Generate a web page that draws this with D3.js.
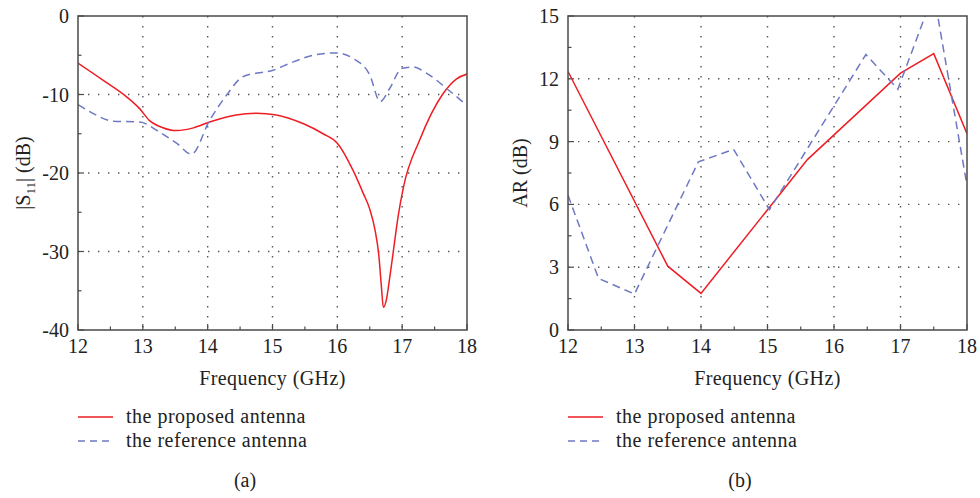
<!DOCTYPE html>
<html>
<head>
<meta charset="utf-8">
<script src="https://cdn.jsdelivr.net/npm/d3@7"></script>
<style>
  body { margin: 0; background: #fff; }
  svg text { font-family: "Liberation Serif", "DejaVu Serif", serif; fill: #222; }
</style>
</head>
<body>
<svg id="chart" width="980" height="498"></svg>
<script>
// (a) |S11| data
const s11Freq = [12, 12.39, 12.75, 12.95, 13.1, 13.3, 13.52, 13.78, 14.03, 14.44, 14.75, 15.06, 15.47, 15.78, 16.0, 16.25, 16.4, 16.5, 16.58, 16.64, 16.68, 16.71, 16.76, 16.8, 16.86, 16.94, 17.02, 17.27, 17.63, 17.84, 18];
const s11Proposed = [-6.0, -8.2, -10.3, -11.8, -13.3, -14.2, -14.6, -14.25, -13.5, -12.6, -12.4, -12.6, -13.7, -15.0, -16.2, -19.8, -22.6, -24.6, -27.2, -30.5, -34.5, -37.1, -36.0, -33.8, -30.2, -25.4, -21.8, -15.8, -9.9, -8.0, -7.4];

const s11RefFreq = [12, 12.23, 12.54, 12.95, 13.26, 13.52, 13.75, 14.03, 14.29, 14.55, 15.01, 15.32, 15.63, 15.99, 16.24, 16.5, 16.66, 16.81, 16.99, 17.17, 17.38, 17.68, 18];
const s11Reference = [-11.3, -12.4, -13.4, -13.5, -14.8, -16.2, -17.6, -13.3, -10.1, -7.7, -6.9, -5.85, -5.0, -4.7, -5.4, -7.5, -10.9, -9.2, -6.7, -6.5, -7.3, -9.2, -11.4];

// (b) AR data
const arFreq = [12, 13.5, 14, 15.6, 17, 17.5, 18];
const arProposed = [12.35, 3.05, 1.75, 8.14, 12.27, 13.2, 9.38];

const arRefFreq = [12, 12.46, 13, 13.96, 14.49, 15.03, 16.48, 16.96, 17.5, 18];
const arReference = [6.44, 2.46, 1.72, 8.03, 8.63, 5.75, 13.16, 11.5, 16.1, 6.9];

const xTicks = [12, 13, 14, 15, 16, 17, 18];
const s11Ticks = [0, -10, -20, -30, -40];
const arTicks = [0, 3, 6, 9, 12, 15];
const legendLabels = ["the proposed antenna", "the reference antenna"];

const RED = "#ee1d23";
const BLUE = "#6e78c4";
const AXIS = "#4a4a4a";
const FONT = "'Liberation Serif', 'DejaVu Serif', serif";

const svg = d3.select("#chart");

function panel(opts) {
  const { left, right, top, bottom } = opts;
  const x = d3.scaleLinear().domain([12, 18]).range([left, right]);
  const y = d3.scaleLinear().domain(opts.yDomain).range([bottom, top]);
  const g = svg.append("g").attr("font-family", FONT);
  const clipId = "clip-" + opts.id;

  g.append("clipPath").attr("id", clipId)
    .append("rect")
    .attr("x", left).attr("y", top)
    .attr("width", right - left).attr("height", bottom - top);

  // dotted grid
  const grid = g.append("g").attr("stroke", "#555").attr("stroke-width", 1.4)
    .attr("stroke-dasharray", "1.4,8.6");
  grid.selectAll(".gx").data(xTicks.slice(1, -1)).join("line")
    .attr("x1", d => x(d)).attr("x2", d => x(d))
    .attr("y1", top).attr("y2", bottom);
  grid.selectAll(".gy").data(opts.yTicks.filter(d => d !== opts.yDomain[0] && d !== opts.yDomain[1])).join("line")
    .attr("y1", d => y(d)).attr("y2", d => y(d))
    .attr("x1", left).attr("x2", right);

  // inner ticks
  const ticks = g.append("g").attr("stroke", AXIS).attr("stroke-width", 1.2);
  const xMinor = d3.range(12.5, 18, 1);
  ticks.selectAll(".tx").data(xTicks).join("line")
    .attr("x1", d => x(d)).attr("x2", d => x(d)).attr("y1", bottom).attr("y2", bottom - 6);
  ticks.selectAll(".txm").data(xMinor).join("line")
    .attr("x1", d => x(d)).attr("x2", d => x(d)).attr("y1", bottom).attr("y2", bottom - 3.5);
  ticks.selectAll(".ty").data(opts.yTicks).join("line")
    .attr("y1", d => y(d)).attr("y2", d => y(d)).attr("x1", left).attr("x2", left + 6);
  ticks.selectAll(".tym").data(opts.yMinor).join("line")
    .attr("y1", d => y(d)).attr("y2", d => y(d)).attr("x1", left).attr("x2", left + 3.5);

  // series
  const lines = g.append("g").attr("clip-path", `url(#${clipId})`).attr("fill", "none");
  opts.series.forEach(s => {
    const line = d3.line().x(d => x(d[0])).y(d => y(d[1])).curve(s.curve);
    lines.append("path")
      .datum(d3.zip(s.xs, s.ys))
      .attr("d", line)
      .attr("stroke", s.color)
      .attr("stroke-width", 1.5)
      .attr("stroke-dasharray", s.dash || null);
  });

  // frame
  g.append("rect")
    .attr("x", left).attr("y", top)
    .attr("width", right - left).attr("height", bottom - top)
    .attr("fill", "none").attr("stroke", AXIS).attr("stroke-width", 1.5);

  // tick labels
  g.selectAll(".xl").data(xTicks).join("text")
    .attr("x", d => x(d)).attr("y", bottom + 23)
    .attr("text-anchor", "middle").attr("font-size", 20)
    .text(d => d);
  g.selectAll(".yl").data(opts.yTicks).join("text")
    .attr("x", left - 9).attr("y", d => y(d) + 7)
    .attr("text-anchor", "end").attr("font-size", 20)
    .text(d => d < 0 ? "-" + Math.abs(d) : d);

  // axis titles
  g.append("text")
    .attr("x", (left + right) / 2).attr("y", 385)
    .attr("text-anchor", "middle").attr("font-size", 20).attr("letter-spacing", 0.4)
    .text("Frequency (GHz)");
  const yt = g.append("text")
    .attr("transform", `translate(${opts.yTitleX},${(top + bottom) / 2}) rotate(-90)`)
    .attr("text-anchor", "middle").attr("font-size", 20);
  opts.yTitle(yt);

  // legend
  const lg = g.append("g").attr("transform", `translate(${left},0)`);
  const rows = [{ color: RED, dash: null }, { color: BLUE, dash: "7,5" }];
  rows.forEach((r, i) => {
    const yy = 417 + i * 24;
    lg.append("line")
      .attr("x1", 0).attr("x2", 35).attr("y1", yy).attr("y2", yy)
      .attr("stroke", r.color).attr("stroke-width", 1.5)
      .attr("stroke-dasharray", r.dash);
    lg.append("text")
      .attr("x", 48).attr("y", yy + 6)
      .attr("font-size", 20).attr("letter-spacing", 0.5)
      .text(legendLabels[i]);
  });

  g.append("text")
    .attr("x", opts.capX).attr("y", 487)
    .attr("text-anchor", "middle").attr("font-size", 20)
    .text(opts.caption);
}

panel({
  id: "a", left: 78, right: 467, top: 16, bottom: 330,
  yDomain: [-40, 0], yTicks: s11Ticks, yMinor: [-5, -15, -25, -35],
  yTitleX: 30, capX: 245, caption: "(a)",
  yTitle: t => {
    t.append("tspan").text("|S");
    t.append("tspan").attr("font-size", 13).attr("dy", 5).text("11");
    t.append("tspan").attr("dy", -5).text("| (dB)");
  },
  series: [
    { xs: s11Freq, ys: s11Proposed, color: RED, curve: d3.curveMonotoneX },
    { xs: s11RefFreq, ys: s11Reference, color: BLUE, dash: "8,5", curve: d3.curveMonotoneX }
  ]
});

panel({
  id: "b", left: 568, right: 967, top: 16, bottom: 330,
  yDomain: [0, 15], yTicks: arTicks, yMinor: [1.5, 4.5, 7.5, 10.5, 13.5],
  yTitleX: 527, capX: 740, caption: "(b)",
  yTitle: t => t.text("AR (dB)"),
  series: [
    { xs: arFreq, ys: arProposed, color: RED, curve: d3.curveLinear },
    { xs: arRefFreq, ys: arReference, color: BLUE, dash: "8,5", curve: d3.curveLinear }
  ]
});
</script>
</body>
</html>
